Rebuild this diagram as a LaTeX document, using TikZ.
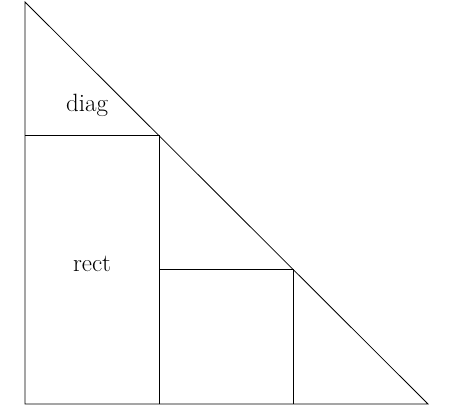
\documentclass[tikz,border=0pt]{standalone}
\tikzset{edge/.style={line width=0.8pt,draw=black},
  lbl/.style={font=\fontsize{25}{29}\selectfont,inner sep=0pt,anchor=base}}
\begin{document}
\begin{tikzpicture}[x=1pt,y=-1pt]
\useasboundingbox (0,0) rectangle (449,419);
% outer triangle
\coordinate (top) at (25,2);
\coordinate (corner) at (25,404);
\coordinate (tip) at (428,404);
\draw[edge] (top) -- (corner) -- (tip) -- cycle;
% big square and small square under the diagonal
\coordinate (sqa) at (159,135.5);
\coordinate (sqb) at (293,269);
\draw[edge] (25,135.5) -- (sqa) -- (159,404);
\draw[edge] (159,269) -- (sqb) -- (293,404);
\node[lbl] (diag) at (87,112) {diag};
\node[lbl] (rect) at (92,272) {rect};
\end{tikzpicture}
\end{document}
